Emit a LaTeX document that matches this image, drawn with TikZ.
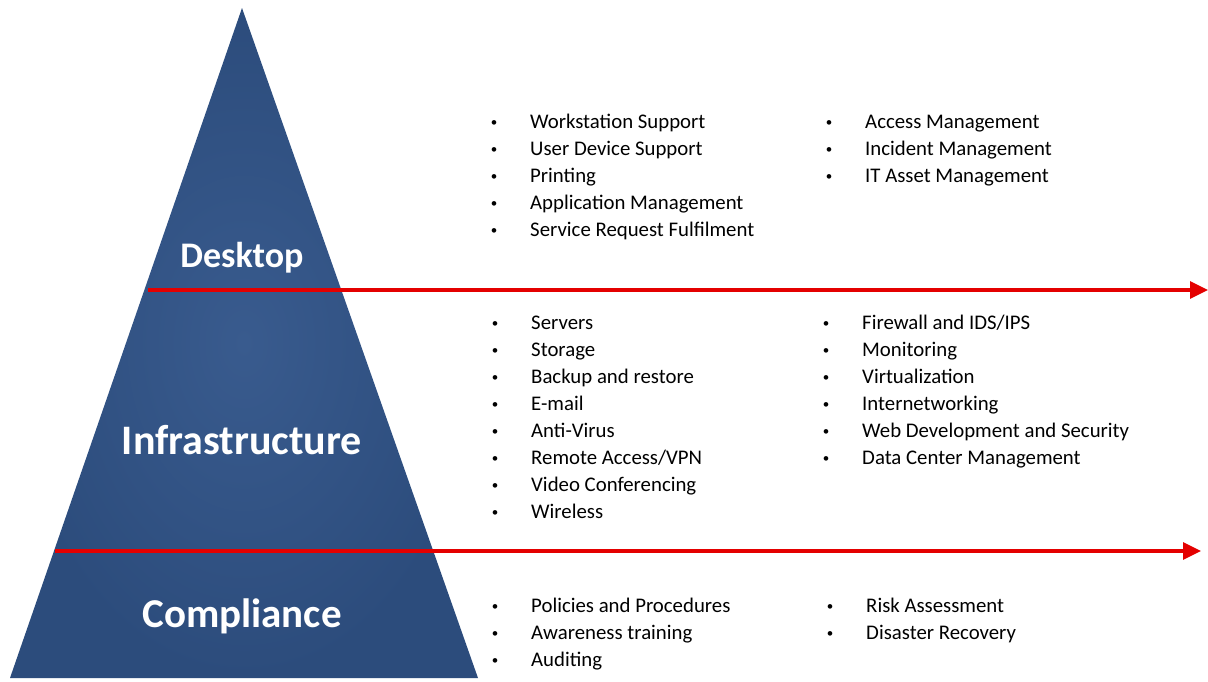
\documentclass[tikz,border=0pt]{standalone}
\usepackage{fontspec}
\setmainfont{Carlito}
\usetikzlibrary{arrows.meta}
\definecolor{pyrblue}{RGB}{44,76,124}
\definecolor{pyrlight}{RGB}{57,91,142}
\definecolor{arrred}{RGB}{228,0,0}
\begin{document}
\begin{tikzpicture}[x=1pt,y=-1pt,
  lvl/.style={text=white,anchor=base,inner sep=0pt},
  item/.style={anchor=base west,inner sep=0pt,font=\fontsize{20.8}{24}\selectfont},
  bul/.style={anchor=base,inner sep=0pt,font=\fontsize{13}{16}\selectfont},
  redarrow/.style={draw=arrred,line width=3.2pt,-{Triangle[length=18pt,width=17pt]}}]
\useasboundingbox (0,0) rectangle (1208,681);
\fill[white] (0,0) rectangle (1208,681);
\coordinate (apex) at (242,8);
\coordinate (bl) at (10,678);
\coordinate (br) at (478,678);
\shade[inner color=pyrlight,outer color=pyrblue] (apex) -- (bl) -- (br) -- cycle;
% level labels
\node[lvl,font=\fontsize{36}{40}\selectfont\bfseries] (desk) at (242,267) {Desktop};
\node[lvl,font=\fontsize{42}{46}\selectfont\bfseries] (infra) at (242,454) {Infrastructure};
\node[lvl,font=\fontsize{41}{45}\selectfont\bfseries] (comp) at (242,627) {Compliance};
% red arrows
\coordinate (a1s) at (148,290);
\coordinate (a1e) at (1208,290);
\coordinate (a2s) at (55,551);
\coordinate (a2e) at (1201,551);
\draw[redarrow] (a1s) -- (a1e);
\draw[redarrow] (a2s) -- (a2e);
% Desktop lists
\foreach \t [count=\i] in {Workstation Support, User Device Support, Printing, Application Management, Service Request Fulfilment}{
  \node[bul] (dlb\i) at (494,{126+27*(\i-1)}) {•};
  \node[item] (dlt\i) at (530,{128+27*(\i-1)}) {\t};
}
\foreach \t [count=\i] in {Access Management, Incident Management, IT Asset Management}{
  \node[bul] (drb\i) at (829,{126+27*(\i-1)}) {•};
  \node[item] (drt\i) at (865,{128+27*(\i-1)}) {\t};
}
% Infrastructure lists
\foreach \t [count=\i] in {Servers, Storage, Backup and restore, E-mail, Anti-Virus, Remote Access/VPN, Video Conferencing, Wireless}{
  \node[bul] (ilb\i) at (495,{327+27.1*(\i-1)}) {•};
  \node[item] (ilt\i) at (531,{329+27.1*(\i-1)}) {\t};
}
\foreach \t [count=\i] in {Firewall and IDS/IPS, Monitoring, Virtualization, Internetworking, Web Development and Security, Data Center Management}{
  \node[bul] (irb\i) at (826,{327+27.1*(\i-1)}) {•};
  \node[item] (irt\i) at (862,{329+27.1*(\i-1)}) {\t};
}
% Compliance lists
\foreach \t [count=\i] in {Policies and Procedures, Awareness training, Auditing}{
  \node[bul] (clb\i) at (495,{610+27*(\i-1)}) {•};
  \node[item] (clt\i) at (531,{612+27*(\i-1)}) {\t};
}
\foreach \t [count=\i] in {Risk Assessment, Disaster Recovery}{
  \node[bul] (crb\i) at (830,{610+27*(\i-1)}) {•};
  \node[item] (crt\i) at (866,{612+27*(\i-1)}) {\t};
}
\end{tikzpicture}
\end{document}
